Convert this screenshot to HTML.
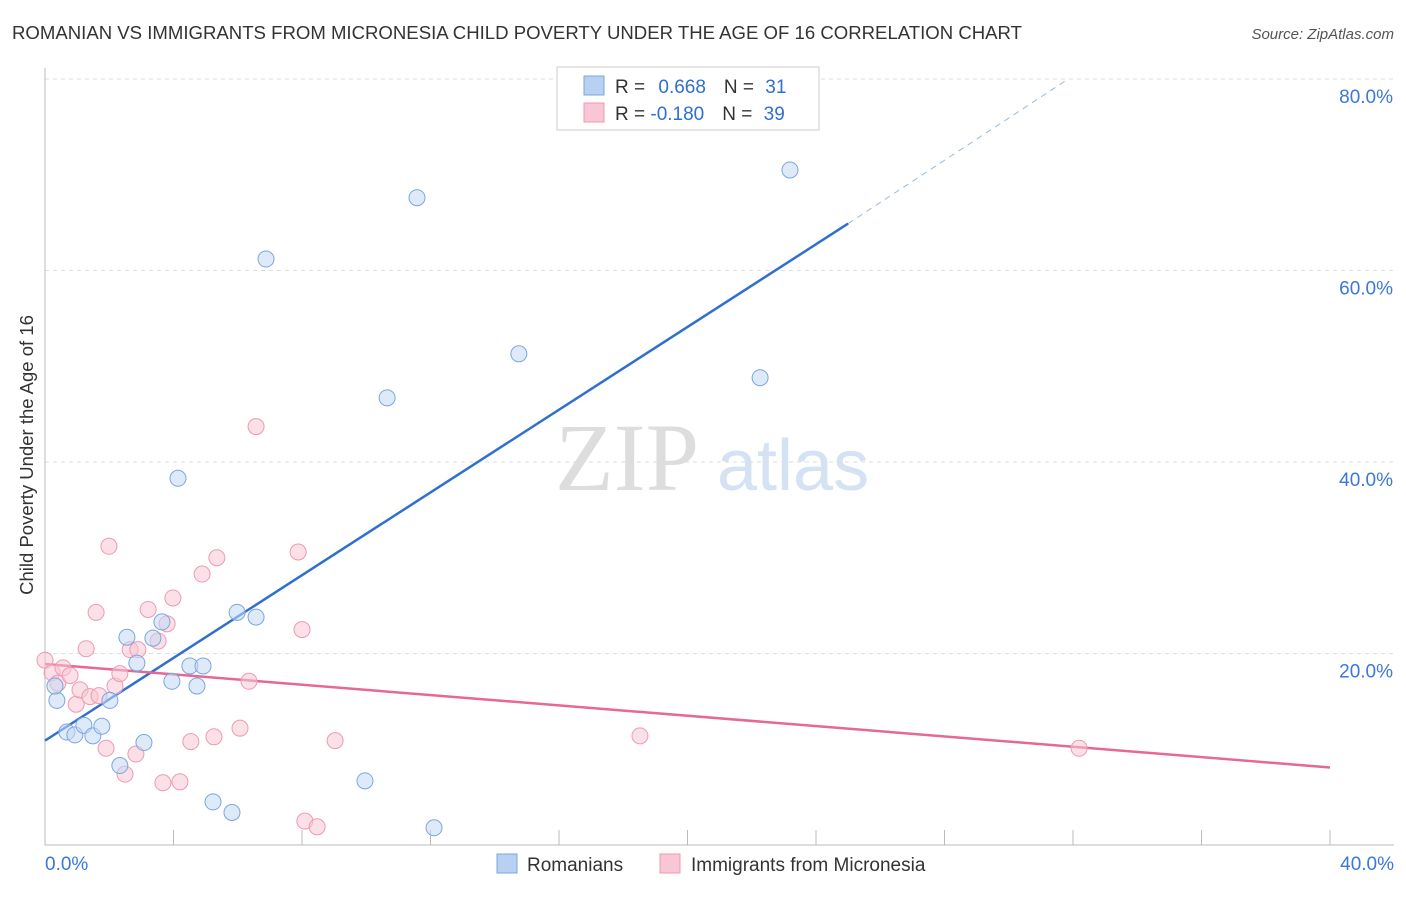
<!DOCTYPE html>
<html><head><meta charset="utf-8"><style>
body{margin:0;background:#fff;font-family:"Liberation Sans",sans-serif;}
svg text{font-family:"Liberation Sans",sans-serif;}
</style></head><body>
<svg id="chart" width="1406" height="892">
<text x="12" y="39" font-size="18" fill="#333" textLength="1010" lengthAdjust="spacingAndGlyphs">ROMANIAN VS IMMIGRANTS FROM MICRONESIA CHILD POVERTY UNDER THE AGE OF 16 CORRELATION CHART</text>
<text x="1394" y="39" font-size="15" fill="#555" font-style="italic" text-anchor="end">Source: ZipAtlas.com</text>
<text x="33" y="455" font-size="18.5" fill="#333" transform="rotate(-90 33 455)" text-anchor="middle">Child Poverty Under the Age of 16</text>
<text x="555" y="490" font-size="96" fill="#ddd" style="font-family:'Liberation Serif',serif">ZIP</text>
<text x="717" y="490" font-size="72" fill="#d4e2f4">atlas</text>
<g id="grid"></g><g id="axes"></g><g id="lines"></g><g id="pts"></g>
<g>
<rect x="557" y="67" width="262" height="63" fill="#fff" stroke="#ccc"/>
<rect x="584" y="76" width="20" height="19" fill="#b8d0f2" stroke="#7aa6e0"/>
<rect x="584" y="103" width="20" height="19" fill="#f8c6d4" stroke="#ee9ab2"/>
<text x="615" y="93" font-size="19" fill="#333">R = <tspan fill="#2f6fd0" dx="8">0.668</tspan><tspan dx="18" fill="#333">N = </tspan><tspan fill="#2f6fd0" dx="6">31</tspan></text>
<text x="615" y="120" font-size="19" fill="#333">R = <tspan fill="#2f6fd0">-0.180</tspan><tspan dx="18" fill="#333">N = </tspan><tspan fill="#2f6fd0" dx="6">39</tspan></text>
</g>
<g>
<rect x="497" y="854" width="20" height="19" fill="#b8d0f2" stroke="#7aa6e0"/>
<text x="527" y="871" font-size="19" fill="#333">Romanians</text>
<rect x="660" y="854" width="20" height="19" fill="#f8c6d4" stroke="#ee9ab2"/>
<text x="691" y="871" font-size="19" fill="#333">Immigrants from Micronesia</text>
</g>
</svg>
<script>
const blueX=[0.37,0.31,0.68,0.93,1.21,1.49,1.77,2.02,2.33,2.55,2.86,3.08,3.36,3.64,3.95,4.14,4.51,4.73,4.92,5.23,5.82,5.98,6.57,6.88,9.96,10.65,11.58,12.11,14.75,22.26,23.19];
const blueY=[15.1,16.6,11.8,11.5,12.5,11.4,12.4,15.1,8.3,21.7,19.0,10.7,21.6,23.3,17.1,38.3,18.7,16.6,18.7,4.5,3.4,24.3,23.8,61.2,6.7,46.7,67.6,1.8,51.3,48.8,70.5];
const pinkX=[0,0.22,0.40,0.56,0.78,0.97,1.09,1.28,1.40,1.59,1.68,1.90,1.99,2.18,2.33,2.49,2.65,2.83,2.89,3.21,3.52,3.67,3.80,3.98,4.20,4.54,4.89,5.26,5.35,6.07,6.35,6.57,7.88,8.00,8.09,8.47,9.03,18.52,32.19];
const pinkY=[19.3,18.0,16.9,18.5,17.7,14.7,16.2,20.5,15.5,24.3,15.6,10.1,31.2,16.6,17.9,7.4,20.4,9.5,20.4,24.6,21.3,6.5,23.1,25.8,6.6,10.8,28.3,11.3,30.0,12.2,17.1,43.7,30.6,22.5,2.5,1.9,10.9,11.4,10.1];
const yTicks=[20,40,60,80];
const xTickVals=[0,4,8,12,16,20,24,28,32,36,40];
const blueLine=[[0,10.9],[25,64.9]], blueDash=[[25,64.9],[31.85,80]];
const pinkLine=[[0,18.9],[40,8.1]];
const NS='http://www.w3.org/2000/svg';
const X=v=>45+v/40*1285, Y=v=>845-v*9.575;
function mk(p,t,a){const e=document.createElementNS(NS,t);for(const k in a)e.setAttribute(k,a[k]);document.getElementById(p).appendChild(e);return e;}
yTicks.forEach(t=>{const l=mk('grid','line',{x1:45,x2:1394,y1:Y(t),y2:Y(t),stroke:'#ddd','stroke-dasharray':'4,4'});


const tx=mk('grid','text',{x:1393,y:Y(t)+24,'font-size':19,fill:'#3b78d8','text-anchor':'end'});tx.textContent=t+'.0%';

});
const ax=mk('axes','line',{x1:45,x2:45,y1:68,y2:845,stroke:'#bbb'});


const bx=mk('axes','line',{x1:45,x2:1394,y1:845,y2:845,stroke:'#bbb'});


xTickVals.forEach(t=>{const l=mk('axes','line',{x1:X(t),x2:X(t),y1:830,y2:845,stroke:'#bbb'});

});
[[0,'start',45],[40,'end',1394]].forEach(([v,a,x])=>{const t=mk('axes','text',{x:x,y:870,'font-size':19,fill:'#3b78d8','text-anchor':a});t.textContent=v+'.0%';

});
function ln(pts,col,dash,name){const l=mk('lines','line',{x1:X(pts[0][0]),y1:Y(pts[0][1]),x2:X(pts[1][0]),y2:Y(pts[1][1]),stroke:col,'stroke-width':dash?1:2.5});if(dash)l.setAttribute('stroke-dasharray','6,5');

}
function pts(xs,ys,fill,st,name){xs.forEach((x,i)=>{const c=mk('pts','circle',{cx:X(x),cy:Y(ys[i]),r:8,fill:fill,'fill-opacity':0.55,stroke:st,'stroke-width':1});

});}
pts(pinkX,pinkY,'#f8c6d4','#ee9ab2','micronesia-point');
pts(blueX,blueY,'#c5d9f4','#7aa6e0','romanian-point');
ln(blueLine,'#2f6fd0',false,'romanian-trend-line');
ln(blueDash,'#9ab8e4',true,'romanian-trend-extension');
ln(pinkLine,'#e56895',false,'micronesia-trend-line');
</script>
</body></html>
